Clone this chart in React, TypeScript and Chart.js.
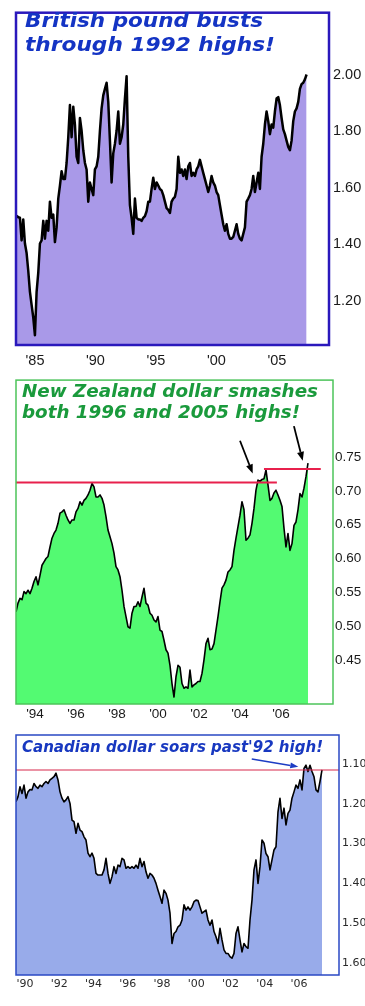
import React, { useEffect, useLayoutEffect, useRef } from 'react';
import { Chart, registerables } from 'chart.js';

Chart.register(...registerables);

// ---------- British pound (USD per GBP) ----------
const gbpStart = 1983.48;
const gbpStep = 0.13774;
const gbpValues = [
  1.50, 1.495, 1.493, 1.413, 1.487, 1.402, 1.368, 1.305, 1.231, 1.185,
  1.140, 1.077, 1.231, 1.299, 1.402, 1.413, 1.482, 1.419, 1.482, 1.447,
  1.550, 1.493, 1.504, 1.407, 1.459, 1.561, 1.607, 1.658, 1.630, 1.630,
  1.687, 1.778, 1.892, 1.778, 1.886, 1.823, 1.709, 1.687, 1.846, 1.801,
  1.732, 1.687, 1.664, 1.550, 1.618, 1.595, 1.573, 1.664, 1.675, 1.709,
  1.801, 1.880, 1.926, 1.949, 1.971, 1.903, 1.766, 1.618, 1.721, 1.755,
  1.801, 1.869, 1.755, 1.778, 1.823, 1.915, 1.994, 1.709, 1.538, 1.493,
  1.436, 1.561, 1.493, 1.487, 1.487, 1.482, 1.493, 1.499, 1.516, 1.550,
  1.550, 1.595, 1.635, 1.595, 1.618, 1.607, 1.595, 1.590, 1.573, 1.550,
  1.527, 1.521, 1.510, 1.550, 1.561, 1.567, 1.595, 1.709,
  1.652, 1.664, 1.641, 1.664, 1.630, 1.675, 1.687, 1.641, 1.652, 1.641,
  1.664, 1.675, 1.698, 1.675, 1.652, 1.630, 1.607, 1.584, 1.607, 1.641,
  1.618, 1.607, 1.584, 1.573, 1.538, 1.504, 1.470, 1.447, 1.470, 1.436,
  1.419, 1.419, 1.425, 1.447, 1.470, 1.436, 1.419, 1.413, 1.436, 1.459,
  1.550, 1.561, 1.573, 1.595, 1.641, 1.584, 1.618, 1.652, 1.595, 1.709,
  1.755, 1.823, 1.869, 1.835, 1.789, 1.823, 1.812, 1.869, 1.915, 1.920,
  1.892, 1.846, 1.806, 1.789, 1.766, 1.744, 1.732, 1.766, 1.835, 1.869,
  1.880, 1.903, 1.949, 1.966, 1.971, 1.983, 2.00,
];
const gbpXTicks = [1985, 1990, 1995, 2000, 2005];
const gbpXLabels = ["'85", "'90", "'95", "'00", "'05"];
const gbpYTicks = [1.2, 1.4, 1.6, 1.8, 2.0];
const gbpYLabels = ['1.20', '1.40', '1.60', '1.80', '2.00'];
const gbpTitle = ['British pound busts', 'through 1992 highs!'];

// ---------- New Zealand dollar (USD per NZD) ----------
const nzdStart = 1993.073;
const nzdStep = 0.09756;
const nzdValues = [
  0.521, 0.534, 0.541, 0.539, 0.551, 0.548, 0.553, 0.548, 0.556, 0.566,
  0.573, 0.561, 0.575, 0.590, 0.595, 0.600, 0.603, 0.617, 0.630, 0.637,
  0.642, 0.652, 0.667, 0.669, 0.672, 0.664, 0.657, 0.652, 0.657, 0.657,
  0.669, 0.674, 0.684, 0.679, 0.686, 0.689, 0.694, 0.701, 0.711, 0.706,
  0.691, 0.691, 0.694, 0.689, 0.679, 0.662, 0.642, 0.632, 0.622, 0.608,
  0.588, 0.583, 0.573, 0.553, 0.529, 0.514, 0.499, 0.497, 0.519, 0.529,
  0.529, 0.536, 0.529, 0.543, 0.556, 0.534, 0.531, 0.519, 0.516, 0.509,
  0.506, 0.514, 0.494, 0.492, 0.479, 0.465, 0.460,
  0.442, 0.415, 0.395, 0.425, 0.442, 0.439, 0.415, 0.408, 0.410, 0.408,
  0.435, 0.410, 0.413, 0.415, 0.418, 0.418, 0.430, 0.450, 0.474, 0.482,
  0.465, 0.466, 0.474, 0.494, 0.514, 0.536, 0.556, 0.561, 0.568, 0.580,
  0.583, 0.588, 0.612, 0.630, 0.647, 0.664, 0.684, 0.672, 0.627, 0.630,
  0.635, 0.652, 0.674, 0.701, 0.716, 0.714, 0.717, 0.718, 0.731, 0.709,
  0.686, 0.689, 0.697, 0.701, 0.694, 0.686, 0.677, 0.645, 0.617, 0.637,
  0.612, 0.622, 0.649, 0.654, 0.672, 0.696, 0.691, 0.704, 0.721, 0.741,
];
const nzdXTicks = [1994, 1996, 1998, 2000, 2002, 2004, 2006];
const nzdXLabels = ["'94", "'96", "'98", "'00", "'02", "'04", "'06"];
const nzdYTicks = [0.45, 0.5, 0.55, 0.6, 0.65, 0.7, 0.75];
const nzdYLabels = ['0.45', '0.50', '0.55', '0.60', '0.65', '0.70', '0.75'];
const nzdHigh1996 = [0.7125, 1993.07, 2005.8]; // value, from, to
const nzdHigh2005 = [0.7322, 2005.17, 2007.94];
const nzdArrow1 = [2004.0, 0.7741, 2004.62, 0.7259];
const nzdArrow2 = [2006.63, 0.7958, 2007.06, 0.7445];
const nzdTitle = ['New Zealand dollar smashes', 'both 1996 and 2005 highs!'];

// ---------- Canadian dollar (CAD per USD, inverted) ----------
const cadStart = 1989.474;
const cadStep = 0.11679;
const cadValues = [
  1.195, 1.182, 1.157, 1.174, 1.153, 1.186, 1.170, 1.164, 1.165, 1.149,
  1.157, 1.161, 1.153, 1.157, 1.149, 1.144, 1.149, 1.140, 1.136, 1.132,
  1.123, 1.140, 1.170, 1.186, 1.195, 1.190, 1.182, 1.199, 1.241, 1.245,
  1.274, 1.249, 1.266, 1.270, 1.283, 1.291, 1.324, 1.333, 1.324, 1.337,
  1.375, 1.379, 1.379, 1.379, 1.366, 1.337, 1.375, 1.400, 1.383, 1.358,
  1.375, 1.354, 1.358, 1.337, 1.341, 1.362, 1.358, 1.362, 1.358, 1.362,
  1.354, 1.362, 1.337, 1.358, 1.345, 1.371, 1.387, 1.375, 1.379, 1.387,
  1.400, 1.417, 1.433, 1.450, 1.417, 1.425, 1.442,
  1.475, 1.551, 1.526, 1.521, 1.509, 1.505, 1.492, 1.454, 1.467, 1.459,
  1.467, 1.459, 1.446, 1.442, 1.443, 1.459, 1.475, 1.471, 1.467, 1.492,
  1.505, 1.492, 1.521, 1.534, 1.551, 1.513, 1.542, 1.567, 1.576, 1.576,
  1.584, 1.588, 1.576, 1.526, 1.509, 1.542, 1.572, 1.551, 1.559, 1.563,
  1.492, 1.442, 1.366, 1.341, 1.400, 1.358, 1.291, 1.299, 1.325, 1.333,
  1.366, 1.341, 1.316, 1.308, 1.220, 1.186, 1.237, 1.211, 1.253, 1.224,
  1.216, 1.186, 1.170, 1.153, 1.161, 1.140, 1.165, 1.111, 1.103, 1.119,
  1.103, 1.119, 1.132, 1.165, 1.170, 1.144, 1.115,
];
const cadXTicks = [1990, 1992, 1994, 1996, 1998, 2000, 2002, 2004, 2006];
const cadXLabels = ["'90", "'92", "'94", "'96", "'98", "'00", "'02", "'04", "'06"];
const cadYTicks = [1.1, 1.2, 1.3, 1.4, 1.5, 1.6];
const cadYLabels = ['1.10', '1.20', '1.30', '1.40', '1.50', '1.60'];
const cadHigh1992 = [1.115];
const cadArrow = [2003.24, 1.0874, 2005.96, 1.1068];
const cadTitle = ["Canadian dollar soars past'92 high!"];

// ---------- helpers ----------
function toPoints(start: number, step: number, values: number[]) {
  return values.map((v, i) => ({ x: start + i * step, y: v }));
}

type ArrowDef = { a: number[]; color: string; width: number; head: number; headW: number };

type PanelCfg = {
  top: number;
  height: number;
  padTop: number;
  axisRight: number;
  axisBottom: number;
  xMin: number;
  xMax: number;
  yMin: number;
  yMax: number;
  reverse: boolean;
  series: { x: number; y: number }[];
  fill: string;
  lineWidth: number;
  borderColor: string;
  borderWidth: number;
  xTicks: number[];
  xLabels: string[];
  yTicks: number[];
  yLabels: string[];
  tickFont: { family: string; size: number };
  tickColor: string;
  xPad: number;
  yPad: number;
  refLines: { value: number; from: number; to: number; color: string; width: number }[];
  arrows: ArrowDef[];
};

function PanelChart({ cfg }: { cfg: PanelCfg }) {
  const ref = useRef<HTMLCanvasElement>(null);
  useEffect(() => {
    if (!ref.current) return;
    const borderPlugin = {
      id: 'frame',
      afterDraw(chart: any) {
        const { ctx, chartArea } = chart;
        ctx.save();
        ctx.strokeStyle = cfg.borderColor;
        ctx.lineWidth = cfg.borderWidth;
        ctx.strokeRect(chartArea.left, chartArea.top, chartArea.right - chartArea.left, chartArea.bottom - chartArea.top);
        ctx.restore();
      },
    };
    const arrowPlugin = {
      id: 'arrows',
      afterDatasetsDraw(chart: any) {
        const { ctx } = chart;
        const xs = chart.scales.x;
        const ys = chart.scales.y;
        for (const d of cfg.arrows) {
          const x1 = xs.getPixelForValue(d.a[0]);
          const y1 = ys.getPixelForValue(d.a[1]);
          const x2 = xs.getPixelForValue(d.a[2]);
          const y2 = ys.getPixelForValue(d.a[3]);
          const ang = Math.atan2(y2 - y1, x2 - x1);
          const hx = x2 - d.head * Math.cos(ang);
          const hy = y2 - d.head * Math.sin(ang);
          ctx.save();
          ctx.strokeStyle = d.color;
          ctx.fillStyle = d.color;
          ctx.lineWidth = d.width;
          ctx.beginPath();
          ctx.moveTo(x1, y1);
          ctx.lineTo(hx, hy);
          ctx.stroke();
          ctx.beginPath();
          ctx.moveTo(x2, y2);
          ctx.lineTo(hx + d.headW * Math.sin(ang), hy - d.headW * Math.cos(ang));
          ctx.lineTo(hx - d.headW * Math.sin(ang), hy + d.headW * Math.cos(ang));
          ctx.closePath();
          ctx.fill();
          ctx.restore();
        }
      },
    };
    const datasets: any[] = [
      {
        data: cfg.series,
        borderColor: '#000000',
        borderWidth: cfg.lineWidth,
        backgroundColor: cfg.fill,
        fill: 'start',
        pointRadius: 0,
        tension: 0,
        order: 2,
      },
      ...cfg.refLines.map((r) => ({
        data: [
          { x: r.from, y: r.value },
          { x: r.to, y: r.value },
        ],
        borderColor: r.color,
        borderWidth: r.width,
        fill: false,
        pointRadius: 0,
        order: 1,
      })),
    ];
    const chart = new Chart(ref.current, {
      type: 'line',
      data: { datasets },
      options: {
        animation: false,
        responsive: false,
        devicePixelRatio: 1,
        layout: { padding: { left: 16, top: cfg.padTop, right: 0, bottom: 0 } },
        plugins: { legend: { display: false }, tooltip: { enabled: false }, title: { display: false } },
        elements: { point: { radius: 0 }, line: { borderJoinStyle: 'round' } },
        scales: {
          x: {
            type: 'linear',
            min: cfg.xMin,
            max: cfg.xMax,
            grid: { display: false, drawTicks: false },
            border: { display: false },
            afterBuildTicks: (s: any) => {
              s.ticks = cfg.xTicks.map((v) => ({ value: v }));
            },
            afterFit: (s: any) => {
              s.height = cfg.axisBottom;
            },
            ticks: {
              autoSkip: false,
              maxRotation: 0,
              padding: cfg.xPad,
              color: cfg.tickColor,
              font: cfg.tickFont,
              callback: (_v: any, i: number) => cfg.xLabels[i],
            },
          },
          y: {
            type: 'linear',
            position: 'right',
            min: cfg.yMin,
            max: cfg.yMax,
            reverse: cfg.reverse,
            grid: { display: false, drawTicks: false },
            border: { display: false },
            afterBuildTicks: (s: any) => {
              s.ticks = cfg.yTicks.map((v) => ({ value: v }));
            },
            afterFit: (s: any) => {
              s.width = cfg.axisRight;
            },
            ticks: {
              autoSkip: false,
              padding: cfg.yPad,
              color: cfg.tickColor,
              font: cfg.tickFont,
              callback: (_v: any, i: number) => cfg.yLabels[i],
            },
          },
        },
      } as any,
      plugins: [borderPlugin, arrowPlugin],
    });
    return () => chart.destroy();
  }, [cfg]);
  return (
    <canvas
      ref={ref}
      width={365}
      height={cfg.height}
      style={{ position: 'absolute', left: 0, top: cfg.top, width: 365, height: cfg.height }}
    />
  );
}

function FitText({ text, left, top, width, size, color }: { text: string; left: number; top: number; width: number; size: number; color: string }) {
  const ref = useRef<HTMLDivElement>(null);
  useLayoutEffect(() => {
    const el = ref.current;
    if (!el) return;
    el.style.transform = 'none';
    const w = el.getBoundingClientRect().width;
    if (w > 0) el.style.transform = `scaleX(${width / w})`;
  }, [text, width]);
  return (
    <div
      ref={ref}
      style={{
        position: 'absolute',
        left,
        top,
        whiteSpace: 'nowrap',
        fontFamily: '"DejaVu Sans", Verdana, sans-serif',
        fontWeight: 'bold',
        fontStyle: 'italic',
        fontSize: size,
        lineHeight: `${size}px`,
        color,
        transformOrigin: 'left top',
      }}
    >
      {text}
    </div>
  );
}

const gbpCfg: PanelCfg = {
  top: 0,
  height: 370,
  padTop: 1,
  axisRight: 36,
  axisBottom: 25,
  xMin: 1983.43,
  xMax: 2009.3,
  yMin: 1.0427,
  yMax: 2.2188,
  reverse: false,
  series: toPoints(gbpStart, gbpStep, gbpValues),
  fill: '#a999e8',
  lineWidth: 2.5,
  borderColor: '#2a18bc',
  borderWidth: 2.5,
  xTicks: gbpXTicks,
  xLabels: gbpXLabels,
  yTicks: gbpYTicks,
  yLabels: gbpYLabels,
  tickFont: { family: '"Liberation Sans", Arial, sans-serif', size: 14.5 },
  tickColor: '#1a1a1a',
  xPad: 7,
  yPad: 4,
  refLines: [],
  arrows: [],
};

const nzdCfg: PanelCfg = {
  top: 370,
  height: 355,
  padTop: 10,
  axisRight: 32,
  axisBottom: 21,
  xMin: 1993.073,
  xMax: 2008.537,
  yMin: 0.3847,
  yMax: 0.8639,
  reverse: false,
  series: toPoints(nzdStart, nzdStep, nzdValues),
  fill: '#53fa72',
  lineWidth: 1.6,
  borderColor: '#4cc45a',
  borderWidth: 1.5,
  xTicks: nzdXTicks,
  xLabels: nzdXLabels,
  yTicks: nzdYTicks,
  yLabels: nzdYLabels,
  tickFont: { family: '"Liberation Sans", Arial, sans-serif', size: 13.5 },
  tickColor: '#1a1a1a',
  xPad: 2,
  yPad: 2,
  refLines: [
    { value: nzdHigh1996[0], from: nzdHigh1996[1], to: nzdHigh1996[2], color: '#e8204c', width: 2 },
    { value: nzdHigh2005[0], from: nzdHigh2005[1], to: nzdHigh2005[2], color: '#e8204c', width: 2 },
  ],
  arrows: [
    { a: nzdArrow1, color: '#000000', width: 1.8, head: 9, headW: 3.5 },
    { a: nzdArrow2, color: '#000000', width: 1.8, head: 9, headW: 3.5 },
  ],
};

const cadCfg: PanelCfg = {
  top: 725,
  height: 281,
  padTop: 10,
  axisRight: 26,
  axisBottom: 31,
  xMin: 1989.474,
  xMax: 2008.336,
  yMin: 1.0271,
  yMax: 1.6302,
  reverse: true,
  series: toPoints(cadStart, cadStep, cadValues),
  fill: '#98abea',
  lineWidth: 1.6,
  borderColor: '#2a48c4',
  borderWidth: 1.5,
  xTicks: cadXTicks,
  xLabels: cadXLabels,
  yTicks: cadYTicks,
  yLabels: cadYLabels,
  tickFont: { family: '"DejaVu Sans", Verdana, sans-serif', size: 11 },
  tickColor: '#2a2a2a',
  xPad: 3,
  yPad: 3,
  refLines: [{ value: cadHigh1992[0], from: 1989.474, to: 2008.336, color: '#d8284c', width: 1.2 }],
  arrows: [{ a: cadArrow, color: '#1c3cc4', width: 1.5, head: 8, headW: 3 }],
};

export default function App() {
  return (
    <div style={{ position: 'absolute', left: 0, top: 0, width: 365, height: 1006, background: '#ffffff', overflow: 'hidden' }}>
      <PanelChart cfg={gbpCfg} />
      <PanelChart cfg={nzdCfg} />
      <PanelChart cfg={cadCfg} />
      <FitText text={gbpTitle[0]} left={25} top={10.6} width={238} size={19.5} color="#1434c4" />
      <FitText text={gbpTitle[1]} left={25} top={35} width={250} size={19.5} color="#1434c4" />
      <FitText text={nzdTitle[0]} left={22} top={383} width={296} size={17} color="#1a9a3c" />
      <FitText text={nzdTitle[1]} left={22} top={404} width={278} size={17} color="#1a9a3c" />
      <FitText text={cadTitle[0]} left={22} top={738.5} width={301} size={16} color="#1838c0" />
    </div>
  );
}
